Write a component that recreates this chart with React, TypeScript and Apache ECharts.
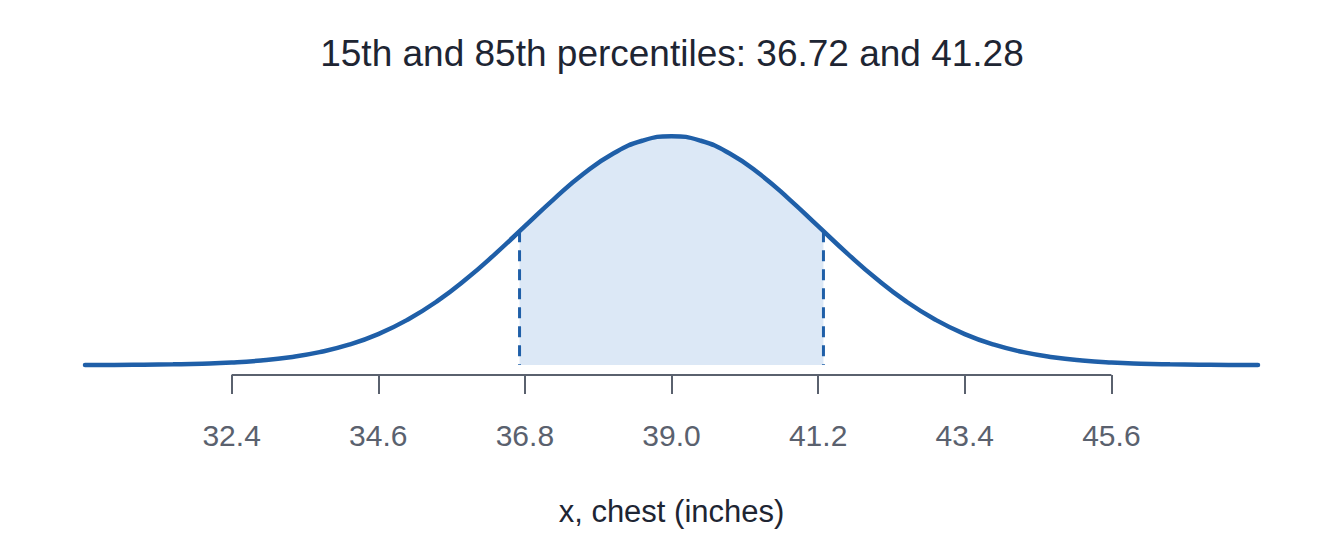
import React, { useEffect, useRef } from 'react';
import * as echarts from 'echarts';

// chest size (inches) and normal density
const chestX = [
  30.2, 30.64, 31.08, 31.52, 31.96, 32.4, 32.84, 33.28, 33.72, 34.16, 34.6,
  35.04, 35.48, 35.92, 36.36, 36.8, 37.24, 37.68, 38.12, 38.56, 39.0,
  39.44, 39.88, 40.32, 40.76, 41.2, 41.64, 42.08, 42.52, 42.96, 43.4,
  43.84, 44.28, 44.72, 45.16, 45.6, 46.04, 46.48, 46.92, 47.36, 47.8,
];
const density = [
  0.0001, 0.0001, 0.0003, 0.0006, 0.0011, 0.002, 0.0036, 0.0062, 0.0102, 0.0161, 0.0245,
  0.0359, 0.0504, 0.0681, 0.0883, 0.11, 0.1317, 0.1515, 0.1674, 0.1777, 0.1813,
  0.1777, 0.1674, 0.1515, 0.1317, 0.11, 0.0883, 0.0681, 0.0504, 0.0359, 0.0245,
  0.0161, 0.0102, 0.0062, 0.0036, 0.002, 0.0011, 0.0006, 0.0003, 0.0001, 0.0001,
];
const percentileX = [36.72, 41.28];
const percentileY = [0.106, 0.106];
const tickValues = [32.4, 34.6, 36.8, 39.0, 41.2, 43.4, 45.6];

const LINE = '#1f5fa8';
const AXIS = '#5a616e';
const FONT = 'Arial, "Liberation Sans", sans-serif';
const Y_MIN = -0.0079;

const App: React.FC = () => {
  const chartRef = useRef<HTMLDivElement>(null);

  useEffect(() => {
    if (!chartRef.current) return;
    const chart = echarts.init(chartRef.current, null, { renderer: 'svg' });

    const curve = chestX.map((x, i) => [x, density[i]]);
    const shade = [
      [percentileX[0], percentileY[0]],
      ...curve.filter(p => p[0] > percentileX[0] && p[0] < percentileX[1]),
      [percentileX[1], percentileY[1]],
    ];

    const option = {
      animation: false,
      title: {
        text: '15th and 85th percentiles: 36.72 and 41.28',
        left: 'center',
        top: 30,
        textStyle: { fontSize: 37, fontWeight: 'normal', color: '#1e2533', fontFamily: FONT },
      },
      grid: { left: 85, right: 86, top: 100, bottom: 162 },
      xAxis: {
        type: 'value',
        min: 30.2,
        max: 47.8,
        name: 'x, chest (inches)',
        nameLocation: 'middle',
        nameGap: 121,
        nameTextStyle: { fontSize: 31, color: '#1e2533', fontFamily: FONT },
        axisLine: { show: false, onZero: false },
        axisTick: {
          show: true,
          customValues: tickValues,
          length: 19,
          lineStyle: { color: AXIS, width: 2 },
        },
        axisLabel: {
          customValues: tickValues,
          formatter: (v: number) => v.toFixed(1),
          margin: 45,
          fontSize: 30,
          color: AXIS,
          fontFamily: FONT,
        },
        splitLine: { show: false },
      },
      yAxis: {
        type: 'value',
        min: Y_MIN,
        max: 0.21,
        show: false,
      },
      series: [
        {
          name: 'shade',
          type: 'line',
          data: shade,
          smooth: true,
          symbol: 'none',
          lineStyle: { width: 0 },
          areaStyle: { color: '#dce8f6', opacity: 1, origin: 0 },
          silent: true,
          z: 1,
        },
        ...percentileX.map((x, i) => ({
          name: 'cut' + i,
          type: 'line',
          data: [
            [x, percentileY[i]],
            [x, 0],
          ],
          symbol: 'none',
          lineStyle: { color: LINE, width: 3, type: [11, 8] },
          silent: true,
          z: 2,
        })),
        {
          name: 'density',
          type: 'line',
          data: curve,
          smooth: true,
          symbol: 'none',
          lineStyle: { color: LINE, width: 4.5, cap: 'round' },
          silent: true,
          z: 3,
        },
        {
          name: 'axisLine',
          type: 'line',
          data: [
            [tickValues[0], Y_MIN],
            [tickValues[tickValues.length - 1], Y_MIN],
          ],
          symbol: 'none',
          clip: false,
          lineStyle: { color: AXIS, width: 2 },
          silent: true,
          z: 2,
        },
      ],
    };

    chart.setOption(option);
    return () => {
      chart.dispose();
    };
  }, []);

  return (
    <div
      ref={chartRef}
      style={{ position: 'fixed', left: 0, top: 0, width: 1344, height: 537, background: '#fff' }}
    />
  );
};

export default App;
